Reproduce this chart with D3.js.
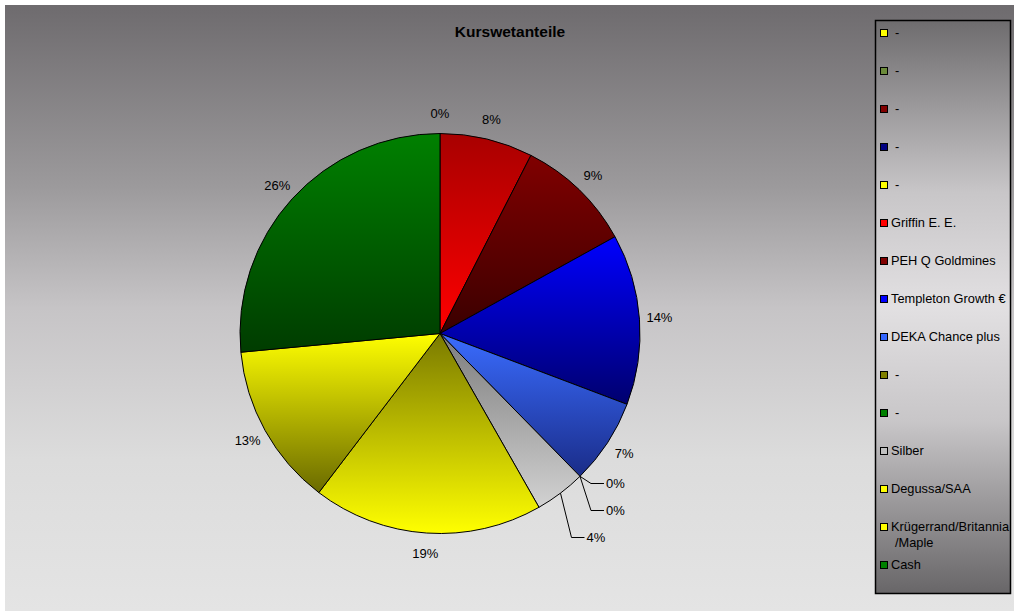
<!DOCTYPE html>
<html><head><meta charset="utf-8">
<script src="https://cdn.jsdelivr.net/npm/d3@7"></script>
<style>
html,body{margin:0;padding:0;background:#fff;}
svg{display:block;font-family:"Liberation Sans",Arial,sans-serif;}
</style></head>
<body>
<svg id="chart" width="1020" height="616"></svg>
<script>
// ---- data ----
const title = "Kurswetanteile";
const series = ["-","-","-","-","-","Griffin E. E.","PEH Q Goldmines","Templeton Growth €","DEKA Chance plus","-","-","Silber","Degussa/SAA","Krügerrand/Britannia\n/Maple","Cash"];
const values = [0,0,0,0,0,7.51,9.45,13.8,6.9,0,0,4.1,18.6,13.15,26.49];
const baseColors = ["#ffff00","#6b8a3a","#800000","#000080","#ffff00","#ff0000","#800000","#0000ff","#3366ff","#808000","#008000","#c0c0c0","#ffff00","#ffff00","#008000"];
const topColors = ["#ffff00","#5f8f2f","#900000","#000090","#ffff00","#a80000","#800000","#0000ff","#3a6cff","#808000","#008000","#7c7c7c","#7a7a00","#ffff00","#008000"];
const bottomColors = ["#a0a000","#9a8040","#600000","#000060","#a0a000","#ff0000","#3a0000","#00006e","#1a2c88","#606000","#006000","#d2d2d2","#ffff00","#6a6a00","#003c00"];

const svg = d3.select("#chart");
const defs = svg.append("defs");

// background gradient
const bg = defs.append("linearGradient").attr("id","bg").attr("x1",0).attr("y1",0).attr("x2",0).attr("y2",1);
[[0,"#6e6b6e"],[0.3,"#9c9a9c"],[0.5,"#c6c4c6"],[0.75,"#dcdcdc"],[1,"#e4e4e4"]].forEach(s=>bg.append("stop").attr("offset",s[0]).attr("stop-color",s[1]));
const lg = defs.append("linearGradient").attr("id","lg").attr("x1",0).attr("y1",0).attr("x2",0).attr("y2",1);
[[0,"#6e6c6e"],[0.3,"#c8c6c8"],[0.5,"#e2e0e2"],[0.7,"#c8c6c8"],[1,"#686668"]].forEach(s=>lg.append("stop").attr("offset",s[0]).attr("stop-color",s[1]));

series.forEach((s,i)=>{
  const g = defs.append("linearGradient").attr("id","sg"+i).attr("x1",0).attr("y1",0).attr("x2",0).attr("y2",1);
  g.append("stop").attr("offset",0).attr("stop-color",topColors[i]);
  g.append("stop").attr("offset",1).attr("stop-color",bottomColors[i]);
});

svg.append("rect").attr("x",5).attr("y",5).attr("width",1009).attr("height",606).attr("fill","url(#bg)");

svg.append("text").attr("x",510).attr("y",37).attr("text-anchor","middle")
  .attr("font-size","15.5px").attr("font-weight","bold").attr("fill","#000").text(title);

// pie
const cx = 440, cy = 333.5, r = 200;
const data = series.map((s,i)=>({name:s,value:values[i],i}));
const pie = d3.pie().sort(null).value(d=>d.value);
const arcs = pie(data);
const total = d3.sum(values);
const arc = d3.arc().innerRadius(0).outerRadius(r);
const g = svg.append("g").attr("transform",`translate(${cx},${cy})`);
g.selectAll("path").data(arcs.filter(a=>a.data.value>0)).join("path")
  .attr("d",arc).attr("fill",a=>`url(#sg${a.data.i})`)
  .attr("stroke","#000").attr("stroke-width",1).attr("stroke-linejoin","round");

const fmt = v => Math.round(v/total*100) + "%";
let k = 0;
const placed = new Set();
arcs.forEach(a=>{
  const mid = (a.startAngle+a.endAngle)/2;
  const small = a.data.value < 5 && mid > Math.PI/2;
  if(!small){
    const lr = r + 20;
    const x = lr*Math.sin(mid), y = -lr*Math.cos(mid);
    const key = Math.round(x)+","+Math.round(y);
    if(placed.has(key)) return;
    placed.add(key);
    g.append("text").attr("x",x).attr("y",y)
      .attr("text-anchor","middle").attr("dy","0.35em").attr("font-size","13px").attr("fill","#000")
      .text(fmt(a.data.value));
  } else {
    const px = r*Math.sin(mid), py = -r*Math.cos(mid);
    const ly = 150 + 27*k; k++;
    const ex = px + 11, hx = ex + 13;
    g.append("polyline").attr("points",`${px},${py} ${ex},${ly} ${hx},${ly}`)
      .attr("fill","none").attr("stroke","#000").attr("stroke-width",1);
    g.append("text").attr("x",hx+2).attr("y",ly).attr("dy","0.35em")
      .attr("font-size","13px").attr("fill","#000").text(fmt(a.data.value));
  }
});

// legend
const L = svg.append("g");
L.append("rect").attr("x",875.5).attr("y",20.5).attr("width",135).attr("height",573)
  .attr("fill","url(#lg)").attr("stroke","#000").attr("stroke-width",1.5);
series.forEach((s,i)=>{
  const y = 33 + 38*i;
  L.append("rect").attr("x",880.5).attr("y",y-3.5).attr("width",7).attr("height",7)
    .attr("fill",baseColors[i]).attr("stroke","#000").attr("stroke-width",1);
  const lines = s.split("\n");
  const t = L.append("text").attr("font-size","12.8px").attr("fill","#000");
  lines.forEach((ln,j)=>{
    t.append("tspan").attr("x", (s==="-" ? 895 : 891) + (j>0?4:0)).attr("y", y + 16*j).attr("dy","0.35em").text(ln);
  });
});
</script>
</body></html>
